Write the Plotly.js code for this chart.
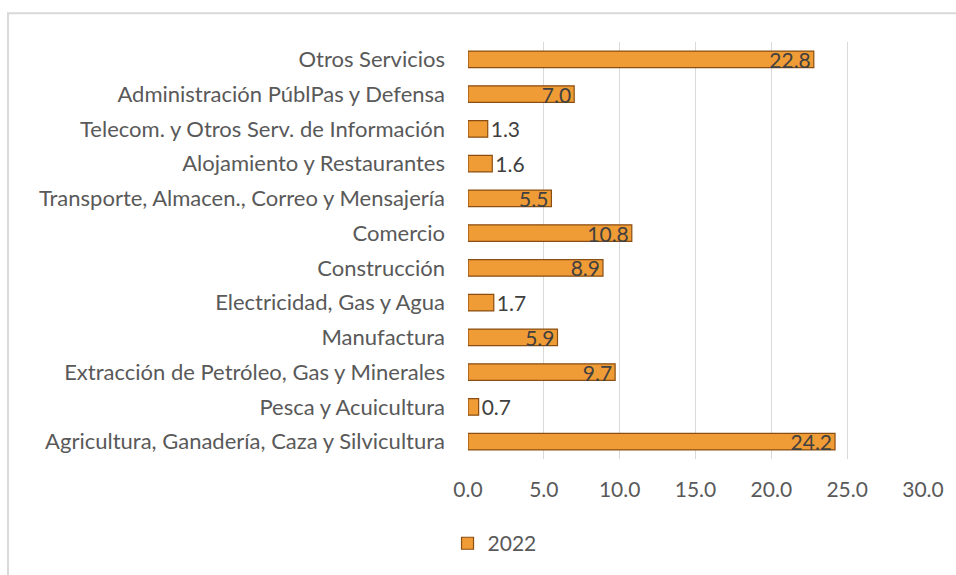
<!DOCTYPE html>
<html>
<head>
<meta charset="utf-8">
<script src="https://cdn.plot.ly/plotly-3.0.1.min.js"></script>
<style>html,body{margin:0;padding:0;background:#fff;} #chart{width:956px;height:575px;}</style>
</head>
<body>
<div id="chart"></div>
<script>
const categories = [
  "Otros Servicios",
  "Administración PúblPas y Defensa",
  "Telecom. y Otros Serv. de Información",
  "Alojamiento y Restaurantes",
  "Transporte, Almacen., Correo y Mensajería",
  "Comercio",
  "Construcción",
  "Electricidad, Gas y Agua",
  "Manufactura",
  "Extracción de Petróleo, Gas y Minerales",
  "Pesca y Acuicultura",
  "Agricultura, Ganadería, Caza y Silvicultura"
];
const values2022 = [22.8, 7.0, 1.3, 1.6, 5.5, 10.8, 8.9, 1.7, 5.9, 9.7, 0.7, 24.2];
const seriesName = "2022";
const xTicks = [0, 5, 10, 15, 20, 25, 30];
const xTickLabels = ["0.0", "5.0", "10.0", "15.0", "20.0", "25.0", "30.0"];

const font = "Lato, 'Open Sans', sans-serif";
const trace = {
  type: "bar",
  orientation: "h",
  name: seriesName,
  y: categories,
  x: values2022,
  width: 0.48,
  marker: {color: "#F09C36", line: {color: "#8A4E12", width: 1.2}},
  texttemplate: "%{x:.1f}",
  textposition: values2022.map(v => v > 3 ? "inside" : "outside"),
  insidetextanchor: "end",
  constraintext: "none",
  cliponaxis: false,
  textfont: {family: font, size: 21, color: "#404040"},
  insidetextfont: {family: font, size: 21, color: "#404040"},
  outsidetextfont: {family: font, size: 21, color: "#404040"},
  hoverinfo: "x+y"
};

const layout = {
  width: 956, height: 575,
  margin: {l: 468, r: 33, t: 42, b: 115},
  paper_bgcolor: "#fff", plot_bgcolor: "#fff",
  font: {family: font, size: 21, color: "#595959"},
  showlegend: true,
  legend: {orientation: "h", x: -0.045, xanchor: "left", y: -0.2, yanchor: "middle",
           font: {family: font, size: 21, color: "#595959"}},
  xaxis: {range: [0, 30], tickvals: xTicks, ticktext: xTickLabels,
          showgrid: true, gridcolor: "#d9d9d9", gridwidth: 1.3, zeroline: false,
          showline: false, ticks: "", ticklabelstandoff: 16,
          tickfont: {family: font, size: 21, color: "#595959"}},
  yaxis: {type: "category", autorange: "reversed", showgrid: false, zeroline: false,
          showline: false, ticks: "", ticklabelstandoff: 22,
          tickfont: {family: font, size: 22, color: "#595959"}},
  bargap: 0.52,
  shapes: [{type: "rect", xref: "paper", yref: "paper",
            x0: -1.011, x1: 1.09, y0: -0.3, y1: 1.069,
            line: {color: "#d9d9d9", width: 2}, fillcolor: "rgba(0,0,0,0)", layer: "below"}]
};

Plotly.newPlot("chart", [trace], layout, {displayModeBar: false, staticPlot: true});
</script>
</body>
</html>
